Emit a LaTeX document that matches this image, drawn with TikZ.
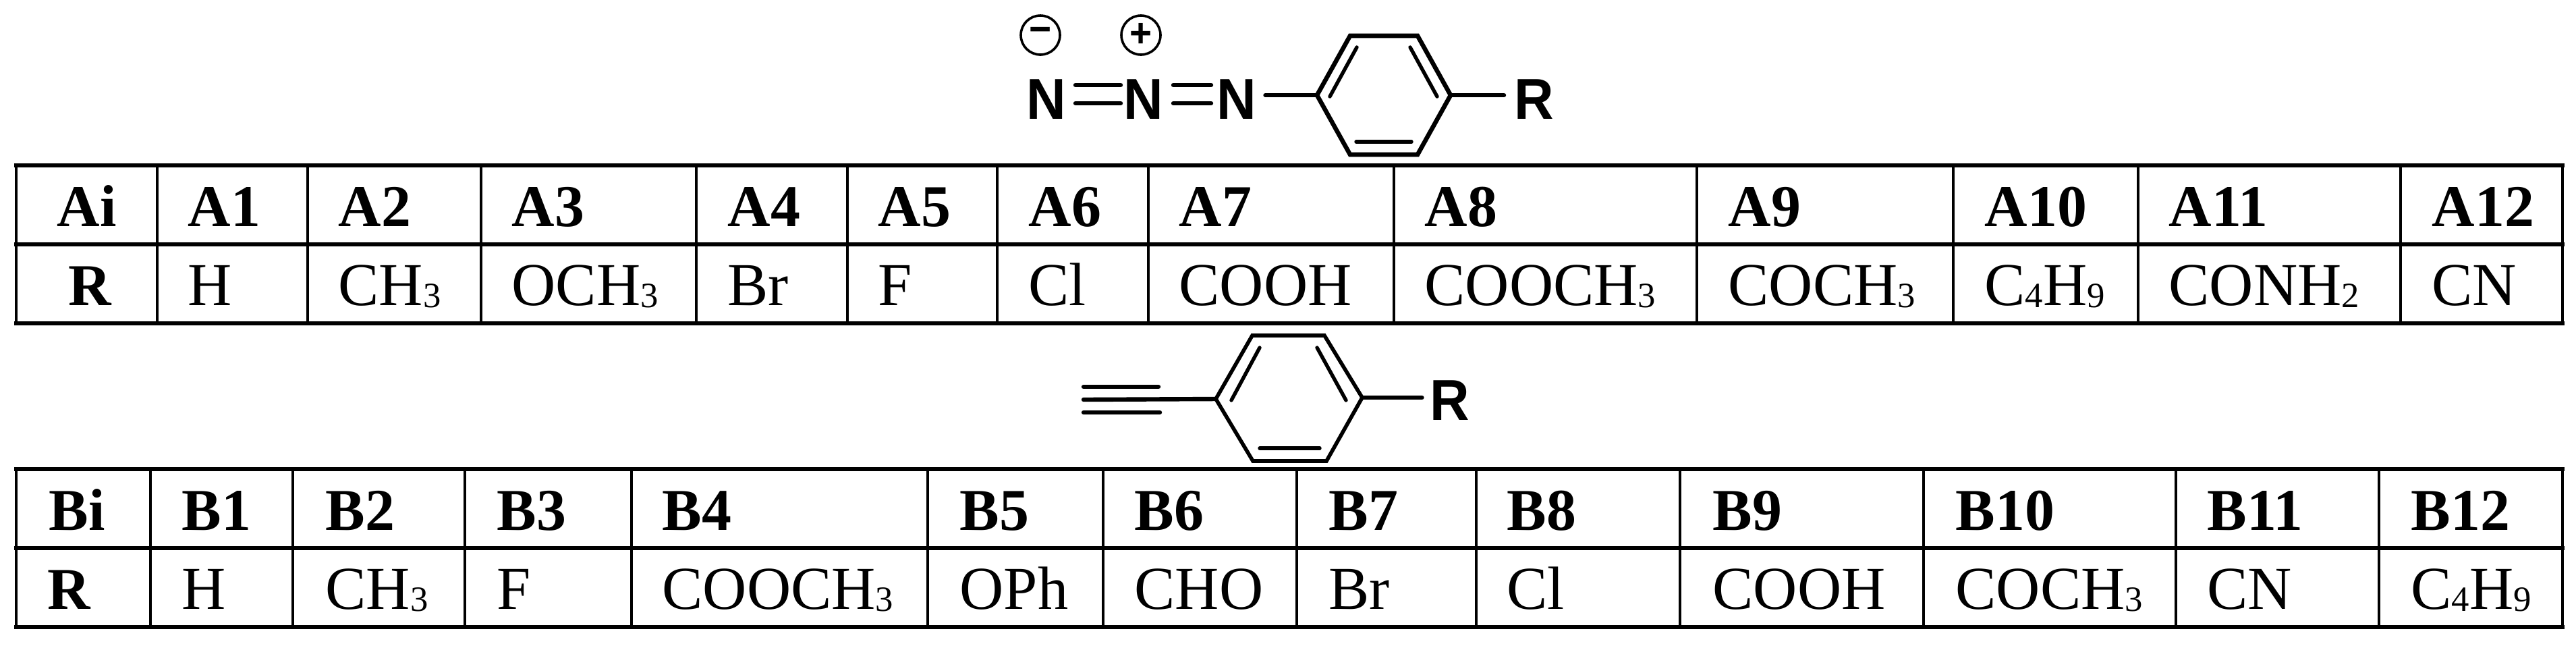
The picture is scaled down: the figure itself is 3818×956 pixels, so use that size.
\documentclass[tikz,border=0pt]{standalone}
\usepackage{fontspec}
\setmainfont{Liberation Serif}
\newfontfamily\atomfont{Liberation Sans}[FakeStretch=.95]
\newcommand{\low}[1]{\raisebox{-.3mm}{\fontsize{15}{15}\selectfont #1}}
\tikzset{
  headcell/.style={anchor=base west, inner sep=0pt, font=\fontsize{25}{30}\selectfont\bfseries},
  valcell/.style={anchor=base west, inner sep=0pt, font=\fontsize{25.7}{30}\selectfont},
  atom/.style={anchor=base, inner sep=0pt, font=\atomfont\fontsize{24.3}{30}\selectfont\bfseries},
  charge/.style={circle, draw, line width=.36mm, minimum size=5.8mm, inner sep=0pt, font=\atomfont\fontsize{17}{17}\selectfont\bfseries},
  rowline/.style={line width=.52mm, line cap=rect},
  colline/.style={line width=.46mm},
  ringline/.style={line width=.66mm, line join=miter},
  innerbond/.style={line width=.54mm, line cap=round},
  bond/.style={line width=.64mm, line cap=round}
}
\begin{document}
\begin{tikzpicture}[x=.1mm, y=-.1mm]
\useasboundingbox (0,0) rectangle (3818,956);
% table A
\foreach \y in {245,362,479}
\draw[rowline] (24,\y) -- (3798,\y);
\foreach \x in {24,233,456,713,1032,1256,1478,1702,2066,2515,2895,3169,3558,3798}
\draw[colline] (\x,245) -- (\x,479);
\node[headcell] (Ai) at (84,335) {Ai};
\node[headcell] (Ri) at (101,452) {R};
\foreach \x/\h/\v in {278/A1/H,501/A2/CH\low{3},758/A3/OCH\low{3},1078/A4/Br,1301/A5/F,1524/A6/Cl,1747/A7/COOH,2111/A8/COOCH\low{3},2561/A9/COCH\low{3},2941/A10/C\low{4}H\low{9},3214/A11/CONH\low{2},3604/A12/CN} {
\node[headcell] (\h) at (\x,335) {\h};
\node[valcell] (val\h) at (\x,452) {\v};
}
% table B
\foreach \y in {695,812,929}
\draw[rowline] (24,\y) -- (3798,\y);
\foreach \x in {24,223,434,689,936,1375,1635,1922,2188,2490,2851,3225,3526,3798}
\draw[colline] (\x,695) -- (\x,929);
\node[headcell] (Bi) at (72,785) {Bi};
\node[headcell] (Rj) at (70,902) {R};
\foreach \x/\h/\v in {269/B1/H,482/B2/CH\low{3},736/B3/F,981/B4/COOCH\low{3},1422/B5/OPh,1681/B6/CHO,1969/B7/Br,2233/B8/Cl,2538/B9/COOH,2898/B10/COCH\low{3},3271/B11/CN,3573/B12/C\low{4}H\low{9}} {
\node[headcell] (\h) at (\x,785) {\h};
\node[valcell] (val\h) at (\x,902) {\v};
}
% azide
\node[atom] (N1) at (1551,176) {N};
\node[atom] (N2) at (1695,176) {N};
\node[atom] (N3) at (1832.5,176) {N};
\node[atom] (R1) at (2274,176) {R};
\node[charge] (neg) at (1542,52) {\symbol{"2212}};
\node[charge] (pos) at (1691,52) {+};
\coordinate (dbhi) at (0,126);
\coordinate (dblo) at (0,153);
\foreach \n/\x/\y in {a1/1952/141,a2/2001/53,a3/2101/53,a4/2150/141,a5/2101/229,a6/2001/229,
  ia1/2011/70,ia2/1971/143,ia3/2090/70,ia4/2130/143,ia5/2010/210,ia6/2092/210}
\coordinate (\n) at (\x,\y);
\draw[ringline] (a1) -- (a2) -- (a3) -- (a4) -- (a5) -- (a6) -- cycle;
\draw[innerbond] (ia1) -- (ia2);
\draw[innerbond] (ia3) -- (ia4);
\draw[innerbond] (ia5) -- (ia6);
\foreach \p in {dbhi,dblo} {
\draw[bond, shorten <=1.3mm, shorten >=.4mm] (N1.east |- \p) -- (N2.west |- \p);
\draw[bond, shorten <=1.4mm, shorten >=.75mm] (N2.east |- \p) -- (N3.west |- \p);
}
\draw[bond, shorten <=1.3mm] (N3.east |- a1) -- (a1);
\draw[bond, shorten >=1.5mm] (a4) -- (R1.west |- a4);
% alkyne
\node[atom] (R2) at (2148.5,622) {R};
\foreach \n/\x/\y in {b1/1802/591,b2/1856/497,b3/1963/497,b4/2019/589,b5/1966/683,b6/1857/683,
  ib1/1867/515,ib2/1825/593,ib3/1952/515,ib4/1995/593,ib5/1867/664,ib6/1956/664,
  t1/1606/573,t2/1717/573,t3/1606/592,t4/1606/611,t5/1719/611}
\coordinate (\n) at (\x,\y);
\draw[ringline, line width=.56mm] (b1) -- (b2) -- (b3) -- (b4) -- (b5) -- (b6) -- cycle;
\draw[innerbond] (ib1) -- (ib2);
\draw[innerbond] (ib3) -- (ib4);
\draw[innerbond] (ib5) -- (ib6);
\draw[bond] (t1) -- (t2);
\draw[bond] (t3) -- (b1);
\draw[bond] (t4) -- (t5);
\draw[bond, shorten >=1.1mm] (b4) -- (R2.west |- b4);
\end{tikzpicture}
\end{document}
